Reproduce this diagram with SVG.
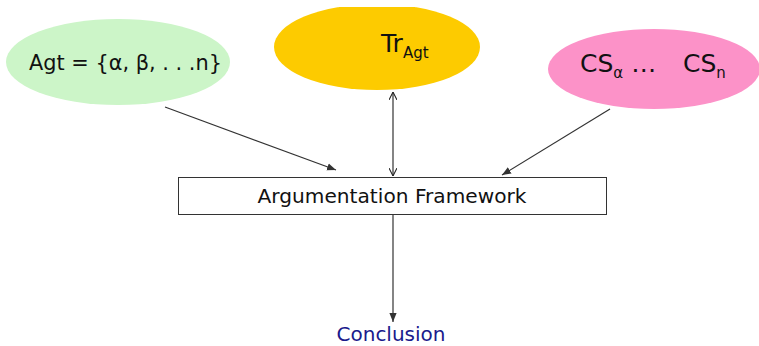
<svg xmlns="http://www.w3.org/2000/svg" width="759" height="346" viewBox="0 0 759 346">
<defs>
<marker id="ah" viewBox="0 0 10 10" refX="10" refY="5" markerWidth="8" markerHeight="8" orient="auto-start-reverse" markerUnits="userSpaceOnUse">
<path d="M0,0 L10,5 L0,10" fill="none" stroke="#222" stroke-width="1.3"/>
</marker>
<marker id="ahf" viewBox="0 0 10 10" refX="10" refY="5" markerWidth="9" markerHeight="9" orient="auto" markerUnits="userSpaceOnUse">
<path d="M0,1 L10,5 L0,9 z" fill="#333"/>
</marker>
<clipPath id="cg"><rect x="0" y="0" width="230" height="346"/></clipPath>
<clipPath id="cy"><rect x="0" y="7" width="759" height="339"/></clipPath>
</defs>
<style>
.t{font-family:"DejaVu Sans",Verdana,sans-serif;fill:#111}
.c{stroke:#333;stroke-width:1.2;fill:none}
</style>
<rect width="759" height="346" fill="#fff"/>
<g id="agents">
<ellipse cx="118" cy="62" rx="112" ry="43" fill="#ccf5c8" clip-path="url(#cg)"/>
<text class="t" x="29" y="70" font-size="21" textLength="193" lengthAdjust="spacingAndGlyphs">Agt = {α, β, . . .n}</text>
</g>
<g id="trust">
<ellipse cx="377" cy="47" rx="103" ry="43" fill="#fdcb00" clip-path="url(#cy)"/>
<text class="t" x="381" y="52" font-size="25">Tr<tspan font-size="15" dy="6">Agt</tspan></text>
</g>
<g id="commitments">
<ellipse cx="654" cy="69" rx="106" ry="40" fill="#fc92c8"/>
<text class="t" x="580" y="72" font-size="25">CS<tspan font-size="15" dy="6">α</tspan><tspan dy="-6" font-size="25"> …</tspan><tspan x="683" font-size="25">CS</tspan><tspan font-size="15" dy="6">n</tspan></text>
</g>
<g id="framework">
<rect x="178.5" y="177.5" width="428" height="37" fill="#fff" stroke="#333" stroke-width="1"/>
<text class="t" x="392" y="203" font-size="19" text-anchor="middle" textLength="269" lengthAdjust="spacingAndGlyphs">Argumentation Framework</text>
</g>
<g id="conclusion">
<text x="391" y="341" font-family="'DejaVu Sans',Verdana,sans-serif" font-size="20" fill="#1a1a8c" text-anchor="middle" textLength="109" lengthAdjust="spacingAndGlyphs">Conclusion</text>
</g>
<g id="connectors">
<line class="c" x1="165" y1="107" x2="336" y2="170" marker-end="url(#ahf)"/>
<line class="c" x1="393" y1="92" x2="393" y2="176" marker-start="url(#ah)" marker-end="url(#ah)"/>
<line class="c" x1="610" y1="109" x2="502" y2="175" marker-end="url(#ahf)"/>
<line class="c" x1="393" y1="215" x2="393" y2="322" marker-end="url(#ahf)"/>
</g>
</svg>
